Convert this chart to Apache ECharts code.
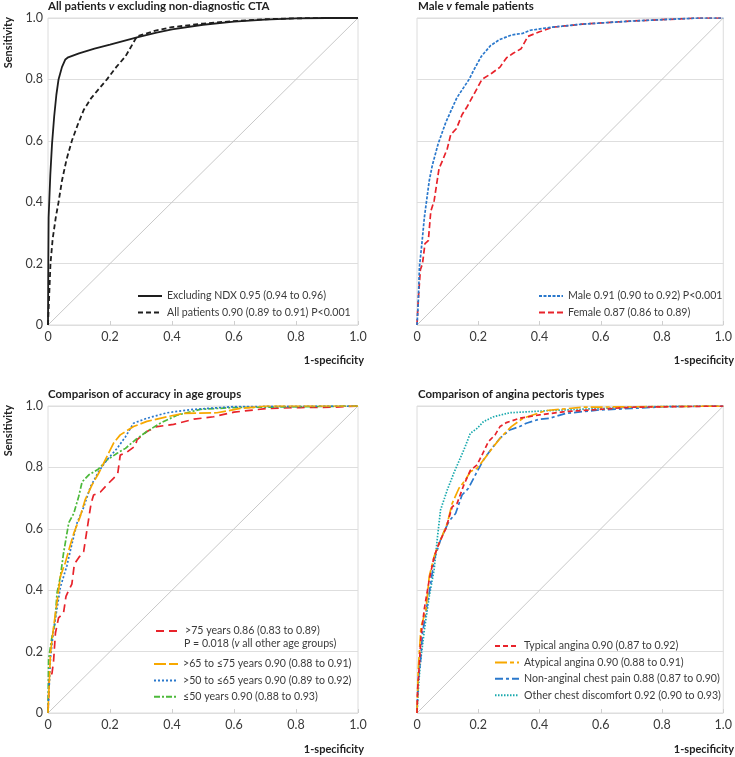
<!DOCTYPE html>
<html><head><meta charset="utf-8">
<script src="https://cdn.jsdelivr.net/npm/echarts@6/dist/echarts.min.js"></script>
<style>html,body{margin:0;padding:0;background:#fff}#c{width:735px;height:757px}</style>
</head><body><div id="c"></div>
<script>
// ---------- DATA ----------
const xTicks = [0, 0.2, 0.4, 0.6, 0.8, 1.0];
const yTicks = [0, 0.2, 0.4, 0.6, 0.8, 1.0];
const diagonal = [[0,0],[1,1]];

// Panel 1: All patients v excluding non-diagnostic CTA
const exclNDX = [[0,0],[0.001,0.2],[0.002,0.35],[0.0075,0.49],[0.013,0.59],[0.02,0.68],[0.027,0.75],[0.034,0.8],[0.045,0.84],[0.056,0.865],[0.065,0.872],[0.1,0.885],[0.15,0.9],[0.2,0.913],[0.287,0.937],[0.35,0.952],[0.4,0.963],[0.5,0.978],[0.6,0.988],[0.7,0.995],[0.8,0.999],[0.9,1.0],[1,1]];
const allPatients = [[0,0],[0.002,0.05],[0.004,0.1],[0.008,0.2],[0.015,0.28],[0.025,0.35],[0.034,0.4],[0.045,0.47],[0.06,0.54],[0.077,0.6],[0.095,0.65],[0.115,0.7],[0.14,0.74],[0.19,0.8],[0.22,0.84],[0.25,0.875],[0.287,0.94],[0.35,0.96],[0.4,0.97],[0.5,0.982],[0.6,0.99],[0.7,0.996],[0.8,0.999],[0.9,1.0],[1,1]];

// Panel 2: Male v female
const male = [[0,0],[0.004,0.07],[0.008,0.19],[0.015,0.255],[0.024,0.35],[0.04,0.47],[0.05,0.52],[0.069,0.59],[0.094,0.66],[0.13,0.74],[0.17,0.8],[0.185,0.83],[0.21,0.875],[0.24,0.91],[0.27,0.93],[0.31,0.945],[0.345,0.95],[0.37,0.96],[0.44,0.97],[0.54,0.98],[0.7,0.99],[0.92,1.0],[1,1]];
const female = [[0,0],[0.004,0.08],[0.011,0.18],[0.018,0.2],[0.026,0.265],[0.037,0.275],[0.045,0.37],[0.056,0.405],[0.072,0.51],[0.083,0.535],[0.099,0.575],[0.11,0.62],[0.129,0.64],[0.147,0.685],[0.163,0.71],[0.185,0.75],[0.212,0.8],[0.244,0.82],[0.271,0.84],[0.292,0.87],[0.314,0.885],[0.34,0.9],[0.362,0.94],[0.4,0.955],[0.443,0.97],[0.54,0.98],[0.7,0.99],[0.92,1.0],[1,1]];

// Panel 3: age groups
const over75 = [[0,0],[0.004,0.108],[0.013,0.13],[0.018,0.17],[0.024,0.26],[0.034,0.31],[0.05,0.325],[0.058,0.38],[0.067,0.4],[0.077,0.42],[0.085,0.485],[0.099,0.506],[0.115,0.526],[0.124,0.585],[0.139,0.683],[0.147,0.71],[0.169,0.72],[0.19,0.743],[0.212,0.765],[0.225,0.78],[0.233,0.84],[0.255,0.85],[0.282,0.87],[0.287,0.89],[0.319,0.917],[0.352,0.933],[0.405,0.94],[0.47,0.957],[0.534,0.965],[0.6,0.98],[0.706,0.992],[0.814,0.995],[0.92,0.996],[1,1]];
const age65to75 = [[0,0],[0.008,0.195],[0.018,0.28],[0.029,0.36],[0.04,0.445],[0.056,0.49],[0.067,0.53],[0.083,0.585],[0.104,0.64],[0.12,0.695],[0.142,0.743],[0.163,0.78],[0.19,0.835],[0.212,0.88],[0.233,0.906],[0.276,0.933],[0.319,0.95],[0.384,0.965],[0.437,0.976],[0.545,0.978],[0.62,0.992],[0.706,1.0],[1,1]];
const age50to65 = [[0,0],[0.008,0.18],[0.018,0.27],[0.029,0.34],[0.04,0.41],[0.061,0.48],[0.077,0.55],[0.094,0.62],[0.115,0.67],[0.137,0.737],[0.163,0.786],[0.19,0.824],[0.223,0.862],[0.25,0.9],[0.276,0.944],[0.319,0.96],[0.384,0.978],[0.47,0.989],[0.6,0.998],[1,1]];
const under50 = [[0,0],[0.002,0.175],[0.013,0.25],[0.022,0.29],[0.029,0.39],[0.04,0.445],[0.05,0.52],[0.067,0.62],[0.083,0.65],[0.099,0.705],[0.11,0.753],[0.131,0.775],[0.163,0.795],[0.19,0.824],[0.223,0.846],[0.25,0.862],[0.282,0.89],[0.319,0.917],[0.362,0.944],[0.416,0.97],[0.491,0.989],[0.6,0.995],[1,1]];

// Panel 4: angina types
const typical = [[0,0],[0.002,0.076],[0.008,0.163],[0.013,0.25],[0.024,0.34],[0.04,0.434],[0.056,0.51],[0.072,0.553],[0.094,0.6],[0.115,0.672],[0.131,0.683],[0.153,0.743],[0.174,0.79],[0.196,0.808],[0.212,0.84],[0.233,0.884],[0.255,0.906],[0.271,0.933],[0.292,0.946],[0.335,0.96],[0.4,0.971],[0.486,0.982],[0.594,0.989],[0.7,0.996],[1,1]];
const atypical = [[0,0],[0.004,0.14],[0.013,0.28],[0.029,0.336],[0.04,0.445],[0.056,0.51],[0.077,0.564],[0.099,0.618],[0.115,0.683],[0.137,0.732],[0.158,0.759],[0.174,0.786],[0.196,0.797],[0.217,0.824],[0.25,0.868],[0.276,0.9],[0.292,0.917],[0.308,0.933],[0.346,0.96],[0.421,0.985],[0.54,0.996],[1,1]];
const nonAnginal = [[0,0],[0.004,0.108],[0.011,0.163],[0.018,0.26],[0.034,0.358],[0.045,0.423],[0.056,0.5],[0.077,0.564],[0.104,0.624],[0.126,0.65],[0.147,0.71],[0.168,0.732],[0.196,0.786],[0.217,0.824],[0.244,0.862],[0.271,0.895],[0.303,0.922],[0.335,0.933],[0.357,0.944],[0.4,0.957],[0.432,0.96],[0.486,0.976],[0.594,0.987],[0.7,0.992],[0.81,0.998],[1,1]];
const otherDiscomfort = [[0,0],[0.005,0.087],[0.011,0.163],[0.024,0.27],[0.04,0.38],[0.056,0.467],[0.067,0.575],[0.077,0.662],[0.099,0.727],[0.12,0.781],[0.153,0.857],[0.174,0.911],[0.196,0.927],[0.217,0.949],[0.25,0.965],[0.303,0.978],[0.432,0.985],[0.594,0.992],[0.755,0.998],[1,1]];

const names = {
  exclNDX: 'Excluding NDX 0.95 (0.94 to 0.96)',
  allPatients: 'All patients 0.90 (0.89 to 0.91) P<0.001',
  male: 'Male 0.91 (0.90 to 0.92) P<0.001',
  female: 'Female 0.87 (0.86 to 0.89)',
  over75: '>75 years 0.86 (0.83 to 0.89)',
  age65to75: '>65 to ≤75 years 0.90 (0.88 to 0.91)',
  age50to65: '>50 to ≤65 years 0.90 (0.89 to 0.92)',
  under50: '≤50 years 0.90 (0.88 to 0.93)',
  typical: 'Typical angina 0.90 (0.87 to 0.92)',
  atypical: 'Atypical angina 0.90 (0.88 to 0.91)',
  nonAnginal: 'Non-anginal chest pain 0.88 (0.87 to 0.90)',
  otherDiscomfort: 'Other chest discomfort 0.92 (0.90 to 0.93)'
};

// ---------- STYLE ----------
const FONT = 'Lato';
const TXT = '#3a3a3a';
const RED = '#e8232b', BLUE = '#2a78cc', ORANGE = '#f7a800', GREEN = '#4cb93a', TEAL = '#19a9ad', BLACK = '#1e1e1e';

const grids = [
  {left: 48, top: 18, width: 310, height: 307},
  {left: 417, top: 18, width: 310, height: 307},
  {left: 48, top: 406, width: 310, height: 307},
  {left: 417, top: 406, width: 310, height: 307}
].map(g => Object.assign({show: true, borderColor: '#dcdcdc', borderWidth: 1, backgroundColor: 'transparent'}, g));

function xAxis(i){
  return {type: 'value', gridIndex: i, min: 0, max: 1, interval: 0.2,
    axisLine: {show: false},
    axisTick: {show: true, inside: true, length: 4, lineStyle: {color: '#cfcfcf'}},
    splitLine: {show: false},
    axisLabel: {show: true, margin: 5, color: TXT, fontFamily: FONT, fontSize: 12.5,
      formatter: v => v === 0 ? '0' : v.toFixed(1)}};
}
function yAxis(i, showLabel){
  return {type: 'value', gridIndex: i, min: 0, max: 1, interval: 0.2,
    axisLine: {show: false}, axisTick: {show: false},
    splitLine: {show: true, lineStyle: {color: '#dedede', width: 1}},
    axisLabel: {show: showLabel, margin: 5, color: TXT, fontFamily: FONT, fontSize: 12.5,
      formatter: v => v === 0 ? '0' : v.toFixed(1)}};
}
function diag(i){
  return {type: 'line', xAxisIndex: i, yAxisIndex: i, data: diagonal, symbol: 'none', silent: true,
    lineStyle: {color: '#c8c8c8', width: 1}, z: 1};
}
function curve(i, name, data, color, type, width){
  return {type: 'line', name: name, xAxisIndex: i, yAxisIndex: i, data: data, symbol: 'none',
    lineStyle: {color: color, width: width || 1.6, type: type}, itemStyle: {color: color}, z: 3};
}

const LFS = 10.6;
const legendBase = {orient: 'vertical', itemWidth: 24, itemHeight: 12, itemGap: 4.4, padding: 0,
  itemStyle: {opacity: 0},
  textStyle: {fontFamily: FONT, fontSize: LFS, lineHeight: 12, color: TXT},
  selectedMode: false};
function legend(data, left, top){
  return Object.assign({}, legendBase, {data: data, left: left, top: top});
}

const titleRich = {
  b: {fontFamily: FONT, fontWeight: 'bold', fontSize: 11.5, color: '#222'},
  i: {fontFamily: FONT, fontStyle: 'italic', fontWeight: 'bold', fontSize: 11.5, color: '#222'}
};
function title(text, left, top){
  return {text: text, left: left, top: top, padding: 0, textStyle: {rich: titleRich}};
}
const AX = 'bold 11px ' + FONT;

const option = {
  animation: false,
  backgroundColor: '#fff',
  textStyle: {fontFamily: FONT},
  title: [
    title('{b|All patients }{i|v}{b| excluding non-diagnostic CTA}', 48, 0),
    title('{b|Male }{i|v}{b| female patients}', 418, 0),
    title('{b|Comparison of accuracy in age groups}', 48, 388),
    title('{b|Comparison of angina pectoris types}', 418, 388)
  ],
  grid: grids,
  xAxis: [xAxis(0), xAxis(1), xAxis(2), xAxis(3)],
  yAxis: [yAxis(0, true), yAxis(1, false), yAxis(2, true), yAxis(3, false)],
  legend: [
    legend([names.exclNDX, names.allPatients], 137, 290),
    legend([names.male, names.female], 538, 290),
    legend([names.over75], 155, 625),
    legend([names.age65to75, names.age50to65, names.under50], 153, 658),
    legend([names.typical, names.atypical, names.nonAnginal, names.otherDiscomfort], 494, 640)
  ],
  graphic: [
    {type: 'text', left: 3, top: 17, rotation: Math.PI/2, style: {text: 'Sensitivity', font: AX, fill: '#222'}},
    {type: 'text', left: 3, top: 405, rotation: Math.PI/2, style: {text: 'Sensitivity', font: AX, fill: '#222'}},
    {type: 'text', right: 371, top: 355, style: {text: '1-specificity', font: AX, fill: '#222'}},
    {type: 'text', right: 1, top: 355, style: {text: '1-specificity', font: AX, fill: '#222'}},
    {type: 'text', right: 371, top: 744, style: {text: '1-specificity', font: AX, fill: '#222'}},
    {type: 'text', right: 1, top: 744, style: {text: '1-specificity', font: AX, fill: '#222'}},
    {type: 'text', left: 184, top: 638, style: {text: '{n|P = 0.018 (}{i|v}{n| all other age groups)}',
      fill: TXT, fontFamily: FONT, fontSize: LFS, fontWeight: 'normal',
      rich: {n: {fontFamily: FONT, fontSize: LFS, fontWeight: 'normal', fill: TXT},
             i: {fontFamily: FONT, fontSize: LFS, fontWeight: 'normal', fontStyle: 'italic', fill: TXT}}}}
  ],
  series: [
    diag(0), diag(1), diag(2), diag(3),
    curve(0, names.exclNDX, exclNDX, BLACK, 'solid', 1.8),
    curve(0, names.allPatients, allPatients, BLACK, [5,3], 1.8),
    curve(1, names.female, female, RED, [6,3], 1.7),
    curve(1, names.male, male, BLUE, [3,1.5], 1.7),
    curve(2, names.over75, over75, RED, [8,5], 1.7),
    curve(2, names.under50, under50, GREEN, [6,2,2,2], 1.7),
    curve(2, names.age50to65, age50to65, BLUE, [2,2], 1.7),
    curve(2, names.age65to75, age65to75, ORANGE, [12,3], 1.7),
    curve(3, names.otherDiscomfort, otherDiscomfort, TEAL, [1.5,1.5], 1.7),
    curve(3, names.nonAnginal, nonAnginal, BLUE, [8,3,3,3], 1.7),
    curve(3, names.atypical, atypical, ORANGE, [12,3,4,3], 1.7),
    curve(3, names.typical, typical, RED, [5,3], 1.7)
  ]
};
const chart = echarts.init(document.getElementById('c'), null, {renderer: 'canvas'});
chart.setOption(option);
</script>
</body></html>
